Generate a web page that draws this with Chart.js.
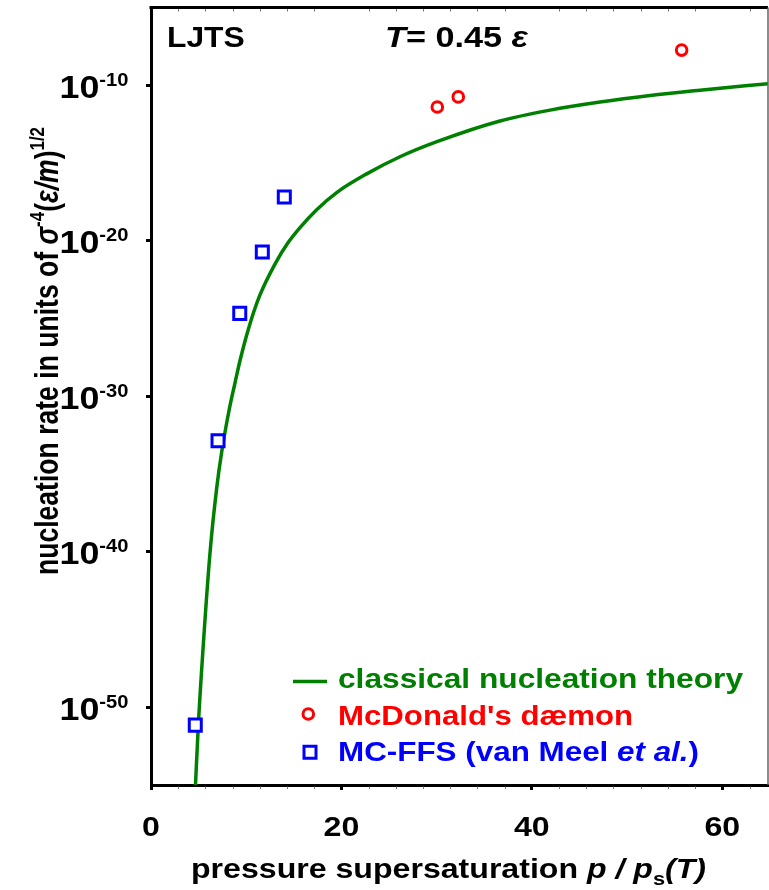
<!DOCTYPE html>
<html><head><meta charset="utf-8">
<script src="https://cdn.jsdelivr.net/npm/chart.js@4.4.0/dist/chart.umd.min.js"></script>
<style>html,body{margin:0;padding:0;background:#fff;}#wrap{width:769px;height:890px;}</style>
</head><body><div id="wrap"><canvas id="c" width="769" height="890"></canvas></div>
<script>
// ---- data (x = p/ps, values given as log10 of nucleation rate) ----
const cntS     = [4.65, 4.97, 5.49, 6.20, 6.90, 7.42, 8.20, 8.82, 9.35, 10.22, 11.37, 13.02, 14.42, 15.65, 17.40, 19.50, 22.65, 26.15, 30.17, 36.65, 41.91, 47.16, 52.41, 57.66, 64.80];
const cntLogJ  = [-55.3, -51.15, -46.0, -40.05, -35.9, -33.6, -30.9, -29.15, -27.7, -25.7, -23.6, -21.5, -20.1, -19.15, -18.0, -16.9, -15.7, -14.6, -13.6, -12.3, -11.6, -11.08, -10.66, -10.32, -9.9];
const mcdS     = [30.07, 32.27, 55.73];
const mcdLogJ  = [-11.40, -10.75, -7.74];
const ffsS     = [4.65, 7.04, 9.32, 11.69, 14.0];
const ffsLogJ  = [-51.15, -32.86, -24.67, -20.73, -17.18];
const xTicks   = [0, 20, 40, 60];
const yTickExp = [-50, -40, -30, -20, -10];
const seriesNames = ['classical nucleation theory', "McDonald's dæmon", 'MC-FFS (van Meel ', 'et al.', ')'];

const GREEN = '#008000', RED = '#ff0000', BLUE = '#0000ff';
const FAM = '"Liberation Sans", Arial, sans-serif';
const pts = (xs, es) => xs.map((x, i) => ({x: x, y: Math.pow(10, es[i])}));

function fontOf(s){ return (s.it ? 'italic ' : '') + 'bold ' + s.sz + 'px ' + FAM; }
function natWidth(ctx, segs){ let w = 0; for (const s of segs){ ctx.font = fontOf(s); w += ctx.measureText(s.t).width; } return w; }
function drawRich(ctx, segs, x, y, o){
  ctx.save();
  const nat = natWidth(ctx, segs);
  const sx = o.fit ? o.fit / nat : (o.sx || 1);
  const w = nat * sx;
  ctx.translate(x, y);
  if (o.rot) ctx.rotate(o.rot);
  const start = o.align === 'center' ? -w / 2 : (o.align === 'right' ? -w : 0);
  ctx.translate(start, 0);
  ctx.scale(sx, 1);
  ctx.textAlign = 'left'; ctx.textBaseline = 'alphabetic';
  let cx = 0;
  for (const s of segs){
    ctx.font = fontOf(s);
    ctx.fillStyle = s.color || o.color || '#000';
    ctx.fillText(s.t, cx, s.dy || 0);
    cx += ctx.measureText(s.t).width;
  }
  ctx.restore();
}

const deco = {
  id: 'deco',
  afterDraw(chart){
    const ctx = chart.ctx, a = chart.chartArea;
    const xs = chart.scales.x, ys = chart.scales.y;
    ctx.save();
    // top frame (black) and right frame (grey)
    ctx.strokeStyle = '#000'; ctx.lineWidth = 3;
    ctx.beginPath(); ctx.moveTo(a.left - 1.5, a.top); ctx.lineTo(a.right, a.top); ctx.stroke();
    ctx.strokeStyle = '#666'; ctx.lineWidth = 1.5;
    ctx.beginPath(); ctx.moveTo(a.right, a.top); ctx.lineTo(a.right, a.bottom); ctx.stroke();
    // minor ticks on top and bottom
    ctx.strokeStyle = '#777'; ctx.lineWidth = 1;
    for (let k = 1; k * 20 / 7 < xs.max; k++){
      if (k % 7 === 0) continue;
      const px = Math.round(xs.getPixelForValue(k * 20 / 7)) + 0.5;
      ctx.beginPath(); ctx.moveTo(px, a.bottom + 1.5); ctx.lineTo(px, a.bottom + 4); ctx.stroke();
      ctx.beginPath(); ctx.moveTo(px, a.top + 1.5); ctx.lineTo(px, a.top + 4); ctx.stroke();
    }
    ctx.restore();

    // y tick labels 10^n
    for (const e of yTickExp){
      const py = ys.getPixelForValue(Math.pow(10, e));
      drawRich(ctx, [{t: '10', sz: 32}, {t: String(e), sz: 18, dy: -12.3}], 128.5, py + 12.6, {align: 'right', sx: 1.12});
    }
    // x tick labels
    for (const v of xTicks){
      drawRich(ctx, [{t: String(v), sz: 27}], xs.getPixelForValue(v), 836, {align: 'center', sx: 1.19});
    }
    // axis titles
    drawRich(ctx, [
      {t: 'pressure supersaturation ', sz: 28},
      {t: 'p', sz: 28, it: true}, {t: ' / ', sz: 28, it: true}, {t: 'p', sz: 28, it: true},
      {t: 's', sz: 19, dy: 7},
      {t: '(T)', sz: 28, it: true}
    ], 191, 878, {fit: 515});
    drawRich(ctx, [
      {t: 'nucleation rate in units of ', sz: 33},
      {t: 'σ', sz: 33, it: true},
      {t: '-4', sz: 21, dy: -14},
      {t: '(', sz: 33}, {t: 'ε/m', sz: 33, it: true}, {t: ')', sz: 33},
      {t: '1/2', sz: 21, dy: -14}
    ], 58, 575, {rot: -Math.PI / 2, fit: 448});

    // annotations
    drawRich(ctx, [{t: 'LJTS', sz: 30}], 167, 47, {sx: 1.06});
    drawRich(ctx, [{t: 'T', sz: 30, it: true}, {t: '= 0.45 ', sz: 30}, {t: 'ε', sz: 30, it: true}], 385, 47, {fit: 143});

    // legend
    ctx.save();
    ctx.strokeStyle = GREEN; ctx.lineWidth = 3.5;
    ctx.beginPath(); ctx.moveTo(293, 681.5); ctx.lineTo(327, 681.5); ctx.stroke();
    ctx.lineWidth = 3;
    ctx.strokeStyle = RED; ctx.fillStyle = '#fff';
    ctx.beginPath(); ctx.arc(308.3, 714, 5.3, 0, Math.PI * 2); ctx.fill(); ctx.stroke();
    ctx.strokeStyle = BLUE;
    ctx.beginPath(); ctx.rect(304, 746.3, 12, 12); ctx.fill(); ctx.stroke();
    ctx.restore();
    drawRich(ctx, [{t: seriesNames[0], sz: 28}], 338, 688, {fit: 405, color: GREEN});
    drawRich(ctx, [{t: seriesNames[1], sz: 28}], 338, 724.5, {fit: 295, color: RED});
    drawRich(ctx, [{t: seriesNames[2], sz: 28}, {t: seriesNames[3], sz: 28, it: true}, {t: seriesNames[4], sz: 28}], 338, 761, {fit: 361, color: BLUE});
  }
};

new Chart(document.getElementById('c'), {
  type: 'scatter',
  data: {datasets: [
    {label: seriesNames[0], data: pts(cntS, cntLogJ), showLine: true, borderColor: GREEN, borderWidth: 3.5,
     pointRadius: 0, cubicInterpolationMode: 'monotone', fill: false, order: 3},
    {label: seriesNames[1], data: pts(mcdS, mcdLogJ), pointStyle: 'circle', pointRadius: 5.3, borderWidth: 3,
     borderColor: RED, backgroundColor: '#fff', showLine: false, order: 1},
    {label: seriesNames[2] + seriesNames[3] + seriesNames[4], data: pts(ffsS, ffsLogJ), pointStyle: 'rect', pointRadius: 8.5, borderWidth: 3,
     borderColor: BLUE, backgroundColor: '#fff', showLine: false, order: 2}
  ]},
  options: {
    responsive: false, animation: false, devicePixelRatio: 1,
    layout: {autoPadding: false, padding: {top: 7.5, right: 1, left: 0, bottom: 0}},
    plugins: {legend: {display: false}, tooltip: {enabled: false}},
    scales: {
      x: {type: 'linear', min: 0, max: 64.8,
          afterBuildTicks: s => { s.ticks = xTicks.map(v => ({value: v})); },
          afterFit: s => { s.height = 105; },
          ticks: {display: false},
          grid: {display: true, drawOnChartArea: false, drawTicks: true, tickLength: 5, tickWidth: 3, tickColor: '#000'},
          border: {display: true, color: '#000', width: 3}},
      y: {type: 'logarithmic', min: 1e-55, max: 1e-5,
          afterBuildTicks: s => { s.ticks = yTickExp.map(e => ({value: Math.pow(10, e)})); },
          afterFit: s => { s.width = 151; },
          ticks: {display: false},
          grid: {display: true, drawOnChartArea: false, drawTicks: true, tickLength: 5, tickWidth: 3, tickColor: '#000'},
          border: {display: true, color: '#000', width: 3}}
    }
  },
  plugins: [deco]
});
</script></body></html>
